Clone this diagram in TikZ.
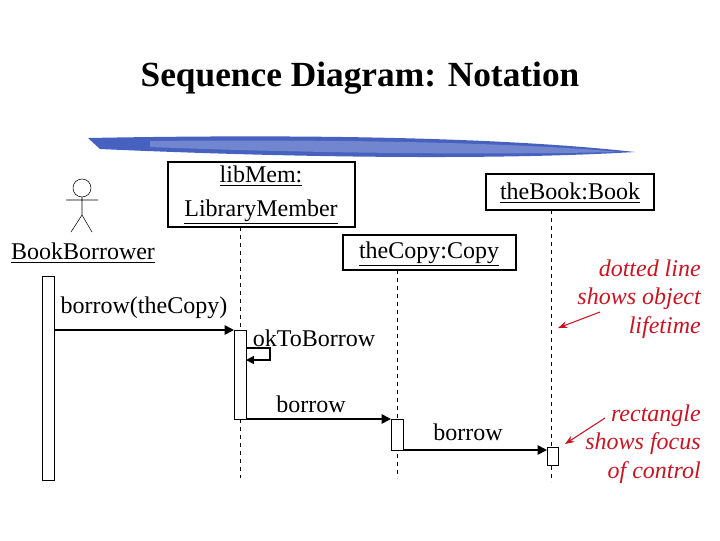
\documentclass[tikz,border=0pt]{standalone}
\usepackage{fontspec}
\setmainfont{Liberation Serif}
\usetikzlibrary{arrows.meta}
\definecolor{note}{RGB}{200,20,35}
\definecolor{brush}{RGB}{50,80,185}
\begin{document}
\begin{tikzpicture}[x=0.75pt,y=-0.75pt,
  lbl/.style={font=\fontsize{18}{21}\selectfont,inner sep=0pt},
  life/.style={dashed,thin},
  act/.style={draw,fill=white},
  msg/.style={very thick,-{Triangle[length=7pt,width=7pt]}},
  note/.style={text=note,font=\fontsize{18}{21.5}\selectfont\itshape,align=right,inner sep=0pt},
  narrow/.style={draw=note,thick,-{Stealth[length=7pt]}}]
\useasboundingbox (0,0) rectangle (720,540);
\node[font=\fontsize{26.5}{30}\selectfont\bfseries] (title) at (360,78) {Sequence Diagram: Notation};
% brush stroke
\fill[brush,opacity=0.9] (88,138) .. controls (300,134) and (500,137) .. (635,152) .. controls (500,160) and (300,158) .. (100,149) -- cycle;
\fill[brush!55,opacity=0.6] (150,141) .. controls (350,139) and (520,143) .. (620,152) .. controls (480,155) and (300,153) .. (150,147) -- cycle;
% actor
\draw (82,188) circle (9);
\draw (82,197) -- (82,215) (66,200) -- (98,200) (82,215) -- (71,232) (82,215) -- (92,232);
\node[lbl] (bb) at (83,253) {\underline{BookBorrower}};
% objects
\draw[thick] (168,162) rectangle (355,227);
\node[lbl,align=center] (lm) at (261,195) {\underline{libMem:}\\[4pt]\underline{LibraryMember}};
\draw[thick] (486,174) rectangle (654,210);
\node[lbl] (tb) at (570,193) {\underline{theBook:Book}};
\draw[thick] (343,235) rectangle (516,270);
\node[lbl] (tc) at (429,254) {\underline{theCopy:Copy}};
% lifelines
\coordinate (l1a) at (240,227); \coordinate (l1b) at (240,478);
\coordinate (l2a) at (397,270); \coordinate (l2b) at (397,478);
\coordinate (l3a) at (551,210); \coordinate (l3b) at (551,482);
\draw[life] (l1a) -- (l1b); \draw[life] (l2a) -- (l2b); \draw[life] (l3a) -- (l3b);
% activations
\draw[act] (42,276) rectangle (54,480);
\draw[act] (234,330) rectangle (246,419);
\draw[act] (391,419) rectangle (403,450);
\draw[act] (547,447) rectangle (558,465);
% messages
\node[lbl] (m1) at (144,308) {borrow(theCopy)};
\coordinate (a1) at (54,330); \coordinate (b1) at (234,330);
\draw[msg] (a1) -- (b1);
\node[lbl] (m2) at (314,338) {okToBorrow};
\coordinate (a2) at (246,348); \coordinate (b2) at (246,360);
\draw[very thick,-{Triangle[length=6pt,width=6pt]}] (a2) -- (270,348) -- (270,360) -- (b2);
\node[lbl] (m3) at (311,404) {borrow};
\coordinate (a3) at (246,419); \coordinate (b3) at (391,419);
\draw[msg] (a3) -- (b3);
\node[lbl] (m4) at (468,432) {borrow};
\coordinate (a4) at (403,450); \coordinate (b4) at (547,450);
\draw[msg] (a4) -- (b4);
% notes
\node[note,anchor=east] (n1) at (701,299) {dotted line\\shows object\\lifetime};
\coordinate (n1a) at (600,312); \coordinate (n1b) at (558,328);
\draw[narrow] (n1a) -- (n1b);
\node[note,anchor=east] (n2) at (701,444) {rectangle\\shows focus\\of control};
\coordinate (n2a) at (605,418); \coordinate (n2b) at (565,444);
\draw[narrow] (n2a) -- (n2b);
\end{tikzpicture}
\end{document}
